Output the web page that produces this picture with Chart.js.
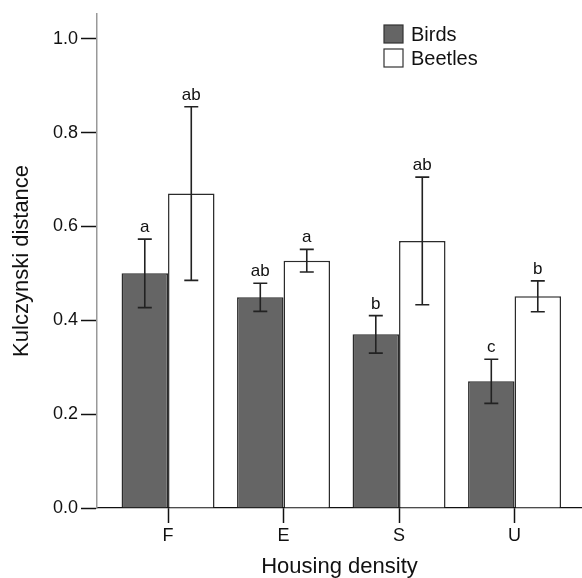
<!DOCTYPE html>
<html lang="en">
<head>
<meta charset="UTF-8">
<title>Kulczynski distance by housing density</title>
<script src="https://cdn.jsdelivr.net/npm/chart.js"></script>
<style>
  html, body { margin: 0; padding: 0; background: #fff; }
  #wrap { width: 582px; height: 578px; }
</style>
</head>
<body>
<div id="wrap"><canvas id="chart"></canvas></div>
<script>
// data
const categories = ["F", "E", "S", "U"];
const birds = [0.500, 0.449, 0.370, 0.270];
const birdsErr = [0.073, 0.030, 0.040, 0.047];
const beetles = [0.670, 0.527, 0.569, 0.451];
const beetlesErr = [0.185, 0.024, 0.136, 0.033];
const birdsLetters = ["a", "ab", "b", "c"];
const beetlesLetters = ["ab", "a", "ab", "b"];
const yTicks = [0, 0.2, 0.4, 0.6, 0.8, 1.0];

const FONT = "'Liberation Sans', Arial, Helvetica, sans-serif";
const INK = "#111";

const errors = [birdsErr, beetlesErr];
const letters = [birdsLetters, beetlesLetters];

// error bars + significance letters
const errorBars = {
    id: "errorBars",
    afterDatasetsDraw(chart) {
        const ctx = chart.ctx;
        const y = chart.scales.y;
        ctx.save();
        chart.data.datasets.forEach((ds, i) => {
            const meta = chart.getDatasetMeta(i);
            meta.data.forEach((bar, j) => {
                const v = ds.data[j].y;
                const e = errors[i][j];
                const top = y.getPixelForValue(v + e);
                const bot = y.getPixelForValue(v - e);
                ctx.strokeStyle = "#222";
                ctx.lineWidth = 1.6;
                ctx.beginPath();
                ctx.moveTo(bar.x, top);
                ctx.lineTo(bar.x, bot);
                ctx.moveTo(bar.x - 7, top);
                ctx.lineTo(bar.x + 7, top);
                ctx.moveTo(bar.x - 7, bot);
                ctx.lineTo(bar.x + 7, bot);
                ctx.stroke();

                ctx.fillStyle = INK;
                ctx.font = "17px " + FONT;
                ctx.textAlign = "center";
                ctx.textBaseline = "alphabetic";
                ctx.fillText(letters[i][j], bar.x, top - 7);
            });
        });
        ctx.restore();
    }
};

// stacked legend, top right
const boxLegend = {
    id: "boxLegend",
    afterDraw(chart) {
        const ctx = chart.ctx;
        ctx.save();
        chart.data.datasets.forEach((ds, i) => {
            const bx = 384, by = 25 + i * 24;
            ctx.fillStyle = ds.backgroundColor;
            ctx.fillRect(bx, by, 19, 18);
            ctx.strokeStyle = "#333";
            ctx.lineWidth = 1.2;
            ctx.strokeRect(bx, by, 19, 18);
            ctx.fillStyle = INK;
            ctx.font = "20px " + FONT;
            ctx.textAlign = "left";
            ctx.textBaseline = "middle";
            ctx.fillText(ds.label, 411, by + 10);
        });
        ctx.restore();
    }
};

new Chart(document.getElementById("chart"), {
    type: "bar",
    data: {
        datasets: [
            {
                label: "Birds",
                data: birds.map((v, i) => ({ x: i, y: v })),
                backgroundColor: "#656565",
                borderColor: "#2b2b2b",
                borderWidth: 1.5
            },
            {
                label: "Beetles",
                data: beetles.map((v, i) => ({ x: i, y: v })),
                backgroundColor: "#ffffff",
                borderColor: "#2b2b2b",
                borderWidth: 1.5
            }
        ]
    },
    options: {
        responsive: true,
        maintainAspectRatio: false,
        animation: false,
        devicePixelRatio: 1,
        categoryPercentage: 0.805,
        barPercentage: 1.0,
        layout: { padding: { top: 12, left: 0, right: 0, bottom: 0 } },
        plugins: {
            legend: { display: false },
            tooltip: { enabled: false }
        },
        scales: {
            x: {
                type: "linear",
                min: -0.615,
                max: 3.584,
                offset: false,
                afterBuildTicks(scale) {
                    scale.ticks = categories.map((c, i) => ({ value: i }));
                },
                afterFit(scale) { scale.height = 70; },
                ticks: {
                    callback: (v) => categories[v],
                    color: INK,
                    font: { family: FONT, size: 18 },
                    padding: 2,
                    maxRotation: 0
                },
                grid: {
                    offset: false,
                    drawOnChartArea: false,
                    drawTicks: true,
                    tickLength: 15,
                    tickColor: "#111",
                    tickWidth: 1.5
                },
                border: { color: "#111", width: 1.2 },
                title: {
                    display: true,
                    text: "Housing density",
                    color: INK,
                    font: { family: FONT, size: 22, lineHeight: 1 },
                    padding: { top: 0, bottom: 0 }
                }
            },
            y: {
                min: 0,
                max: 1.053,
                afterBuildTicks(scale) {
                    scale.ticks = yTicks.map(v => ({ value: v }));
                },
                afterFit(scale) { scale.width = 97; },
                ticks: {
                    callback: (v) => v.toFixed(1),
                    color: INK,
                    font: { family: FONT, size: 18 },
                    padding: 3
                },
                grid: {
                    drawOnChartArea: false,
                    drawTicks: true,
                    tickLength: 16,
                    tickColor: "#111",
                    tickWidth: 1.5
                },
                border: { color: "#999", width: 1.5 },
                title: {
                    display: true,
                    text: "Kulczynski distance",
                    color: INK,
                    font: { family: FONT, size: 22, lineHeight: 1 },
                    padding: { top: 11, bottom: 20 }
                }
            }
        }
    },
    plugins: [errorBars, boxLegend]
});
</script>
</body>
</html>
